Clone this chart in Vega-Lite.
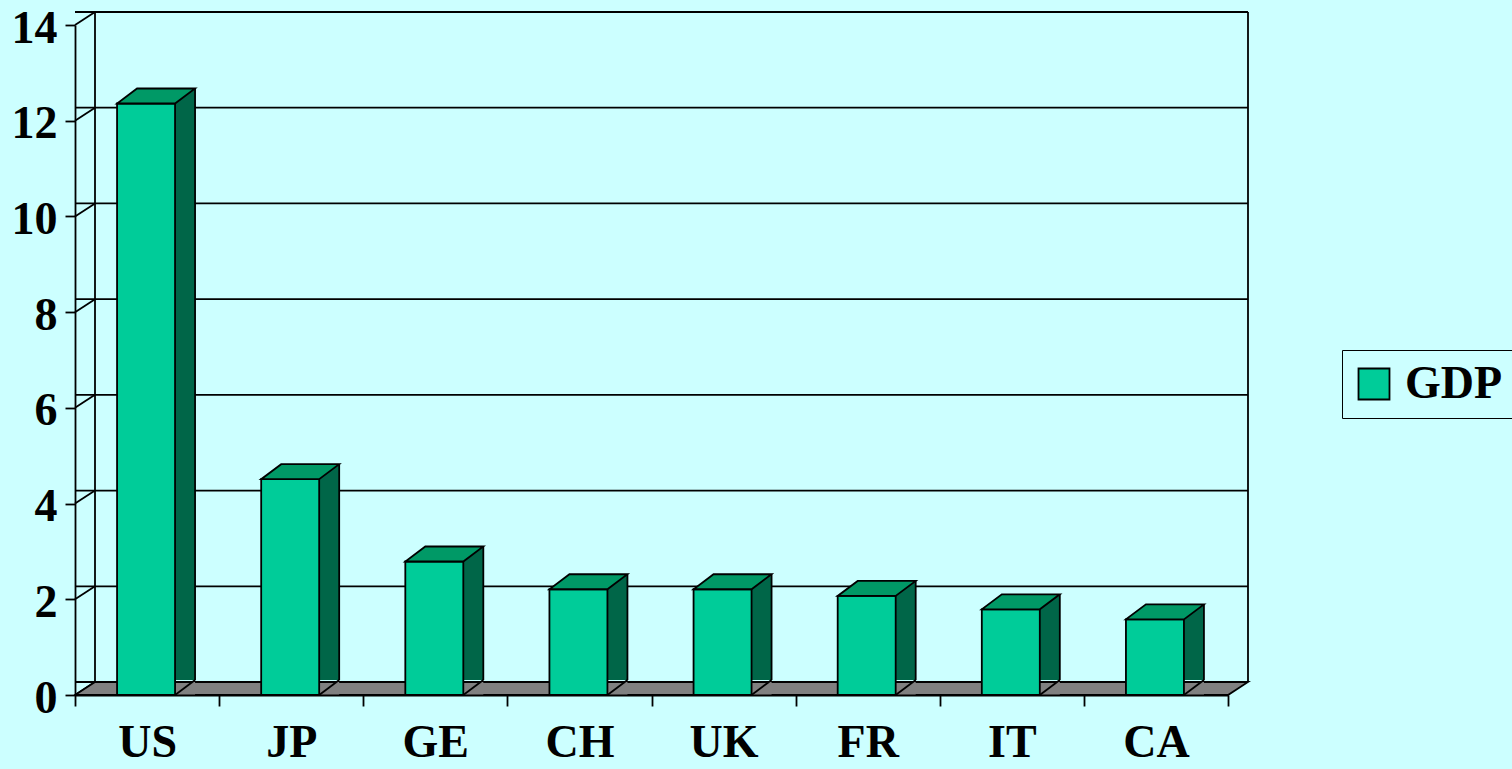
{
  "$schema": "https://vega.github.io/schema/vega-lite/v6.json",
  "width": 1153,
  "height": 670,
  "autosize": {"type": "none"},
  "padding": {"left": 75, "top": 25, "right": 284, "bottom": 74},
  "background": "#CCFFFF",
  "config": {"view": {"stroke": null}, "font": "Liberation Serif"},
  "datasets": {
    "gdp": [
      {"country": "US", "gdp": 12.36},
      {"country": "JP", "gdp": 4.51},
      {"country": "GE", "gdp": 2.79},
      {"country": "CH", "gdp": 2.21},
      {"country": "UK", "gdp": 2.21},
      {"country": "FR", "gdp": 2.07},
      {"country": "IT", "gdp": 1.79},
      {"country": "CA", "gdp": 1.58}
    ],
    "grid": [{"v": 0}, {"v": 2}, {"v": 4}, {"v": 6}, {"v": 8}, {"v": 10}, {"v": 12}, {"v": 14}],
    "base": [{"v": 0, "top": 14}]
  },
  "layer": [
    {
      "data": {"name": "grid"},
      "mark": {"type": "rule", "color": "black", "strokeWidth": 1.8, "xOffset": 20, "x2Offset": 20, "yOffset": -13},
      "encoding": {
        "y": {"field": "v", "type": "quantitative", "scale": {"domain": [0, 14], "nice": false}}
      }
    },
    {
      "data": {"name": "grid"},
      "mark": {"type": "point", "shape": "M0,0 L20,-13", "size": 4, "filled": false, "fill": null, "stroke": "black", "strokeWidth": 1.8, "opacity": 1},
      "encoding": {
        "x": {"datum": "US", "type": "nominal", "bandPosition": 0, "scale": {"domain": ["US", "JP", "GE", "CH", "UK", "FR", "IT", "CA"], "paddingInner": 0, "paddingOuter": 0}},
        "y": {"field": "v", "type": "quantitative", "scale": {"domain": [0, 14], "nice": false}}
      }
    },
    {
      "data": {"name": "base"},
      "mark": {"type": "rule", "color": "black", "strokeWidth": 1.8, "xOffset": 20, "yOffset": -13, "y2Offset": -13},
      "encoding": {
        "x": {"datum": "US", "type": "nominal", "bandPosition": 0, "scale": {"domain": ["US", "JP", "GE", "CH", "UK", "FR", "IT", "CA"], "paddingInner": 0, "paddingOuter": 0}},
        "y": {"field": "v", "type": "quantitative", "scale": {"domain": [0, 14], "nice": false}},
        "y2": {"field": "top"}
      }
    },
    {
      "data": {"name": "base"},
      "mark": {"type": "rule", "color": "black", "strokeWidth": 1.8, "xOffset": 20, "yOffset": -13, "y2Offset": -13},
      "encoding": {
        "x": {"datum": "CA", "type": "nominal", "bandPosition": 1, "scale": {"domain": ["US", "JP", "GE", "CH", "UK", "FR", "IT", "CA"], "paddingInner": 0, "paddingOuter": 0}},
        "y": {"field": "v", "type": "quantitative", "scale": {"domain": [0, 14], "nice": false}},
        "y2": {"field": "top"}
      }
    },
    {
      "data": {"name": "base"},
      "mark": {"type": "point", "shape": "M0,0 L1153,0 L1173,-13 L20,-13 Z", "size": 4, "filled": true, "fill": "#808080", "stroke": "black", "strokeWidth": 1.8, "opacity": 1, "strokeJoin": "miter"},
      "encoding": {
        "x": {"datum": "US", "type": "nominal", "bandPosition": 0, "scale": {"domain": ["US", "JP", "GE", "CH", "UK", "FR", "IT", "CA"], "paddingInner": 0, "paddingOuter": 0}},
        "y": {"field": "v", "type": "quantitative", "scale": {"domain": [0, 14], "nice": false}}
      }
    },
    {
      "data": {"name": "gdp"},
      "mark": {"type": "bar", "width": 20, "xOffset": 38, "yOffset": -15, "fill": "#006648", "stroke": null},
      "encoding": {
        "x": {"field": "country", "type": "nominal", "sort": null, "scale": {"domain": ["US", "JP", "GE", "CH", "UK", "FR", "IT", "CA"], "paddingInner": 0, "paddingOuter": 0}},
        "y": {"field": "gdp", "type": "quantitative", "scale": {"domain": [0, 14], "nice": false}}
      }
    },
    {
      "data": {"name": "gdp"},
      "mark": {"type": "point", "shape": "M29,0 L49,0 L49,-13 L46.3,-13 Z", "size": 4, "filled": true, "fill": "#808080", "stroke": null, "opacity": 1, "xOffset": -1},
      "encoding": {
        "x": {"field": "country", "type": "nominal", "sort": null, "scale": {"domain": ["US", "JP", "GE", "CH", "UK", "FR", "IT", "CA"], "paddingInner": 0, "paddingOuter": 0}},
        "y": {"datum": 0, "type": "quantitative", "scale": {"domain": [0, 14], "nice": false}}
      }
    },
    {
      "data": {"name": "gdp"},
      "mark": {"type": "point", "shape": "M29,0 L49,-15", "size": 4, "filled": false, "fill": null, "stroke": "black", "strokeWidth": 1.8, "opacity": 1, "xOffset": -1},
      "encoding": {
        "x": {"field": "country", "type": "nominal", "sort": null, "scale": {"domain": ["US", "JP", "GE", "CH", "UK", "FR", "IT", "CA"], "paddingInner": 0, "paddingOuter": 0}},
        "y": {"datum": 0, "type": "quantitative", "scale": {"domain": [0, 14], "nice": false}}
      }
    },
    {
      "data": {"name": "gdp"},
      "mark": {"type": "rule", "color": "black", "strokeWidth": 1.8, "xOffset": 48, "yOffset": -15, "y2Offset": -15},
      "encoding": {
        "x": {"field": "country", "type": "nominal", "sort": null, "scale": {"domain": ["US", "JP", "GE", "CH", "UK", "FR", "IT", "CA"], "paddingInner": 0, "paddingOuter": 0}},
        "y": {"field": "gdp", "type": "quantitative", "scale": {"domain": [0, 14], "nice": false}},
        "y2": {"datum": 0}
      }
    },
    {
      "data": {"name": "gdp"},
      "mark": {"type": "bar", "width": 58, "xOffset": -1, "stroke": "black", "strokeWidth": 1.8, "opacity": 1},
      "encoding": {
        "x": {
          "field": "country", "type": "nominal", "sort": null,
          "scale": {"domain": ["US", "JP", "GE", "CH", "UK", "FR", "IT", "CA"], "paddingInner": 0, "paddingOuter": 0},
          "axis": {
            "title": null, "tickBand": "extent", "tickSize": 11, "tickColor": "black", "tickWidth": 1.8,
            "domainColor": "black", "domainWidth": 1.8, "labelFontSize": 46, "labelFont": "Liberation Serif",
            "labelFontWeight": "bold", "labelColor": "black", "labelPadding": 50, "labelAngle": 0,
            "labelAlign": "center", "labelBaseline": "alphabetic", "grid": false, "zindex": 1
          }
        },
        "y": {
          "field": "gdp", "type": "quantitative",
          "scale": {"domain": [0, 14], "nice": false},
          "axis": {
            "title": null, "values": [0, 2, 4, 6, 8, 10, 12, 14], "tickSize": 10, "tickColor": "black", "tickWidth": 1.8,
            "domainColor": "black", "domainWidth": 1.8, "labelFontSize": 46, "labelFont": "Liberation Serif",
            "labelFontWeight": "bold", "labelColor": "black", "labelPadding": 8, "labelOffset": 3, "grid": false, "zindex": 1
          }
        },
        "color": {
          "datum": "GDP", "type": "nominal",
          "scale": {"range": ["#00CC99"]},
          "legend": {
            "title": null, "orient": "none", "legendX": 1267, "legendY": 325, "padding": 11,
            "strokeColor": "black", "fillColor": "#CCFFFF", "symbolType": "square", "symbolSize": 961,
            "symbolStrokeColor": "black", "symbolStrokeWidth": 1.8, "symbolOffset": -2, "labelOffset": 8,
            "labelFontSize": 46, "labelFontWeight": "bold", "labelFont": "Liberation Serif", "labelColor": "black"
          }
        }
      }
    },
    {
      "data": {"name": "gdp"},
      "mark": {"type": "point", "shape": "M-29,0 L29,0 L49,-15 L-9,-15 Z", "size": 4, "filled": true, "fill": "#009966", "stroke": "black", "strokeWidth": 1.8, "opacity": 1, "xOffset": -1, "strokeJoin": "miter"},
      "encoding": {
        "x": {"field": "country", "type": "nominal", "sort": null, "scale": {"domain": ["US", "JP", "GE", "CH", "UK", "FR", "IT", "CA"], "paddingInner": 0, "paddingOuter": 0}},
        "y": {"field": "gdp", "type": "quantitative", "scale": {"domain": [0, 14], "nice": false}}
      }
    }
  ]
}
